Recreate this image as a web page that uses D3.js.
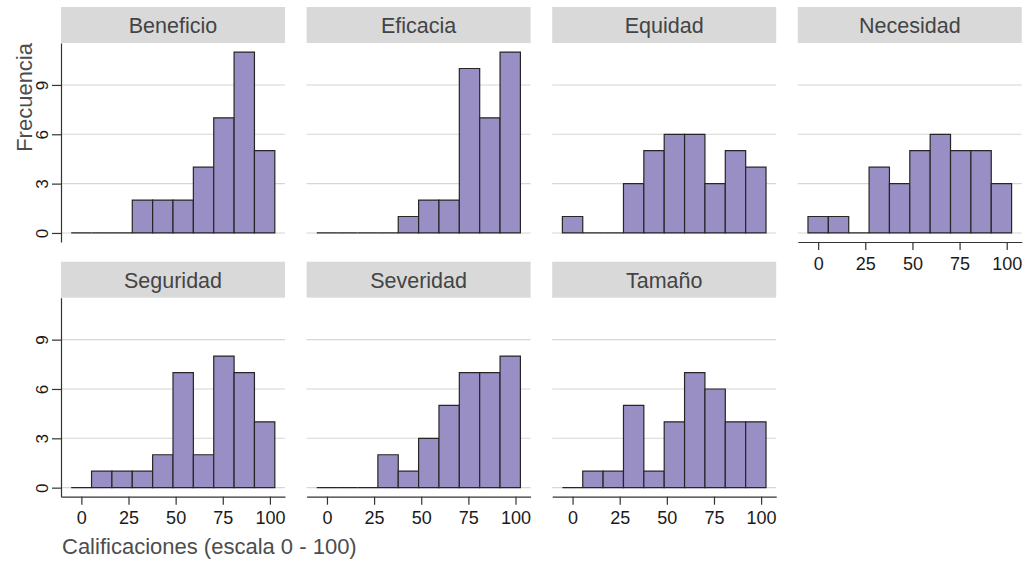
<!DOCTYPE html>
<html>
<head>
<meta charset="utf-8">
<title>Histogramas de calificaciones</title>
<script src="https://cdn.jsdelivr.net/npm/d3@7"></script>
<style>
  body { margin: 0; background: #fff; }
  svg { display: block; font-family: "Liberation Sans", Arial, sans-serif; }
</style>
</head>
<body>
<script>
// datos: conteos por intervalo (10 intervalos de ancho 10.8)
const panelNames = ["Beneficio", "Eficacia", "Equidad", "Necesidad", "Seguridad", "Severidad", "Tamaño"];
const binEdges = [-5.4, 5.4, 16.2, 27, 37.8, 48.6, 59.4, 70.2, 81, 91.8, 102.6];
const beneficio = [0, 0, 0, 2, 2, 2, 4, 7, 11, 5];
const eficacia  = [0, 0, 0, 0, 1, 2, 2, 10, 7, 11];
const equidad   = [1, 0, 0, 3, 5, 6, 6, 3, 5, 4];
const necesidad = [1, 1, 0, 4, 3, 5, 6, 5, 5, 3];
const seguridad = [0, 1, 1, 1, 2, 7, 2, 8, 7, 4];
const severidad = [0, 0, 0, 2, 1, 3, 5, 7, 7, 8];
const tamano    = [0, 1, 1, 5, 1, 4, 7, 6, 4, 4];
const xTicks = [0, 25, 50, 75, 100];
const yTicks = [0, 3, 6, 9];

const allCounts = [beneficio, eficacia, equidad, necesidad, seguridad, severidad, tamano];

// layout
const w = 1024, h = 561;
const ncol = 4;
const left0 = 61, colStep = 245.6, panelW = 224;
const top0 = 7, rowStep = 254.7, stripH = 36, panelH = 199;

const x = d3.scaleLinear().domain([-10.8, 108]).range([0, panelW]);
const y = d3.scaleLinear().domain([-0.55, 11.55]).range([panelH, 0]);

const svg = d3.select("body").append("svg")
  .attr("width", w)
  .attr("height", h);

const nPanels = panelNames.length;

panelNames.forEach(function(name, i) {
  const col = i % ncol;
  const row = Math.floor(i / ncol);
  const g = svg.append("g")
    .attr("transform", "translate(" + (left0 + col * colStep) + "," + (top0 + row * rowStep + stripH) + ")");

  // strip
  g.append("rect")
    .attr("x", 0).attr("y", -stripH)
    .attr("width", panelW).attr("height", stripH)
    .attr("fill", "#d9d9d9");
  g.append("text")
    .attr("x", panelW / 2).attr("y", -stripH + 26)
    .attr("text-anchor", "middle")
    .attr("font-size", "21.5px")
    .attr("fill", "#444")
    .text(name);

  // gridlines
  g.selectAll("line.grid")
    .data(yTicks)
    .enter().append("line")
    .attr("class", "grid")
    .attr("x1", 0).attr("x2", panelW)
    .attr("y1", d => y(d)).attr("y2", d => y(d))
    .attr("stroke", "#d6d6d6")
    .attr("stroke-width", 1.1);

  // bars (path so zero-height bins still show as a line)
  const bins = allCounts[i].map((c, k) => ({ x0: binEdges[k], x1: binEdges[k + 1], n: c }));
  g.selectAll("path.bar")
    .data(bins)
    .enter().append("path")
    .attr("class", "bar")
    .attr("d", d => "M" + x(d.x0) + "," + y(0) + "H" + x(d.x1) + "V" + y(d.n) + "H" + x(d.x0) + "Z")
    .attr("fill", "#998fc4")
    .attr("stroke", "#262626")
    .attr("stroke-width", 1.2);

  // y axis on first column
  if (col === 0) {
    const ya = g.append("g")
      .call(d3.axisLeft(y).tickValues(yTicks).tickSize(9).tickSizeOuter(0));
    ya.select(".domain").attr("stroke", "#333").attr("stroke-width", 1.2);
    ya.selectAll(".tick line").attr("stroke", "#333").attr("stroke-width", 1.2);
    ya.selectAll(".tick text")
      .attr("x", 0).attr("y", 0).attr("dy", 0)
      .attr("transform", "translate(-13,0) rotate(-90)")
      .attr("text-anchor", "middle")
      .attr("font-family", null)
      .attr("font-size", "17px")
      .attr("fill", "#1a1a1a");
  }

  // x axis on bottom panel of each column
  if (i + ncol >= nPanels) {
    const xa = g.append("g")
      .attr("transform", "translate(0," + panelH + ")")
      .call(d3.axisBottom(x).tickValues(xTicks).tickSize(8).tickPadding(7).tickSizeOuter(0));
    xa.select(".domain").attr("stroke", "#333").attr("stroke-width", 1.2);
    xa.selectAll(".tick line").attr("stroke", "#333").attr("stroke-width", 1.2);
    xa.selectAll(".tick text")
      .attr("font-family", null)
      .attr("font-size", "18px")
      .attr("fill", "#1a1a1a");
  }
});

// axis titles
svg.append("text")
  .attr("transform", "translate(31.5," + (top0 + stripH) + ") rotate(-90)")
  .attr("text-anchor", "end")
  .attr("font-size", "22px")
  .attr("fill", "#4d4d4d")
  .text("Frecuencia");

svg.append("text")
  .attr("x", 62).attr("y", 554)
  .attr("text-anchor", "start")
  .attr("font-size", "22px")
  .attr("fill", "#4d4d4d")
  .text("Calificaciones (escala 0 - 100)");
</script>
</body>
</html>
